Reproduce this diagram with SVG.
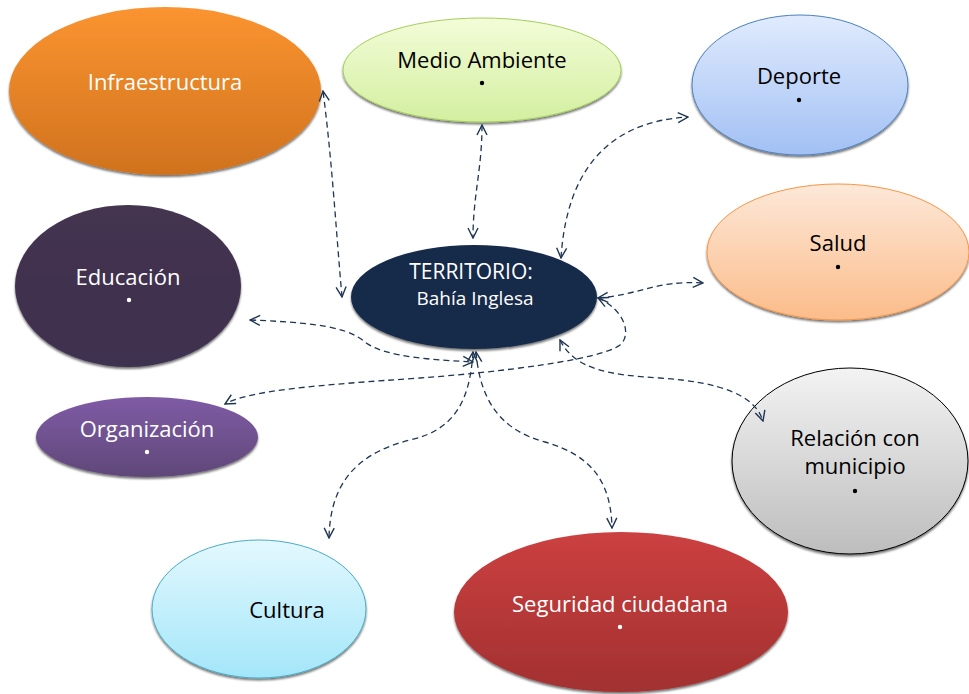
<svg xmlns="http://www.w3.org/2000/svg" width="969" height="694" viewBox="0 0 969 694">
<style>
.lbl{font-family:"Open Sans","Liberation Sans",sans-serif;font-size:22px;text-anchor:middle}
.w{fill:#ffffff}.k{fill:#000000}
.conn path{fill:none;stroke:#1f3552;stroke-width:1.3;stroke-dasharray:6 4;marker-start:url(#ah);marker-end:url(#ah)}
.sh{filter:url(#ds)}
</style>
<defs>
<marker id="ah" viewBox="0 0 12 12" refX="11" refY="6" markerWidth="12" markerHeight="12" markerUnits="userSpaceOnUse" orient="auto-start-reverse">
<path d="M1,1 L11,6 L1,11" fill="none" stroke="#1f3552" stroke-width="1.4"/>
</marker>
<filter id="ds" x="-10%" y="-10%" width="120%" height="125%">
<feDropShadow dx="0" dy="2" stdDeviation="1.2" flood-color="#000" flood-opacity="0.55"/>
</filter>
<linearGradient id="gInf" x1="0" y1="0" x2="0" y2="1"><stop offset="0" stop-color="#fb9430"/><stop offset="1" stop-color="#d0721e"/></linearGradient>
<linearGradient id="gMed" x1="0" y1="0" x2="0" y2="1"><stop offset="0" stop-color="#f3fcd8"/><stop offset="1" stop-color="#d3efa0"/></linearGradient>
<linearGradient id="gDep" x1="0" y1="0" x2="0" y2="1"><stop offset="0" stop-color="#e0ebfd"/><stop offset="1" stop-color="#a2c0f4"/></linearGradient>
<linearGradient id="gSal" x1="0" y1="0" x2="0" y2="1"><stop offset="0" stop-color="#fde8d8"/><stop offset="1" stop-color="#fbbc8a"/></linearGradient>
<linearGradient id="gEdu" x1="0" y1="0" x2="0" y2="1"><stop offset="0" stop-color="#44344f"/><stop offset="1" stop-color="#3e3150"/></linearGradient>
<linearGradient id="gOrg" x1="0" y1="0" x2="0" y2="1"><stop offset="0" stop-color="#7f5ba6"/><stop offset="1" stop-color="#5f4878"/></linearGradient>
<linearGradient id="gRel" x1="0" y1="0" x2="0" y2="1"><stop offset="0" stop-color="#f3f3f3"/><stop offset="1" stop-color="#bdbdbd"/></linearGradient>
<linearGradient id="gCul" x1="0" y1="0" x2="0" y2="1"><stop offset="0" stop-color="#e3f8fe"/><stop offset="1" stop-color="#a3e6f9"/></linearGradient>
<linearGradient id="gSeg" x1="0" y1="0" x2="0" y2="1"><stop offset="0" stop-color="#cc4040"/><stop offset="1" stop-color="#a23030"/></linearGradient>
</defs>
<rect width="969" height="694" fill="#ffffff"/>

<g id="infraestructura">
<ellipse class="sh" cx="165" cy="91" rx="156" ry="84" fill="url(#gInf)"/>
<text class="lbl w" x="165" y="90">Infraestructura</text>
</g>
<g id="medio-ambiente">
<ellipse class="sh" cx="482" cy="70" rx="139" ry="52" fill="url(#gMed)" stroke="#a6cf5e" stroke-width="1"/>
<text class="lbl k" x="482" y="68">Medio Ambiente</text>
<circle cx="482" cy="83" r="2.2" fill="#000"/>
</g>
<g id="deporte">
<ellipse class="sh" cx="800" cy="85" rx="108" ry="70" fill="url(#gDep)" stroke="#4f81bd" stroke-width="1"/>
<text class="lbl k" x="799" y="84">Deporte</text>
<circle cx="799" cy="100" r="2.2" fill="#000"/>
</g>
<g id="salud">
<ellipse class="sh" cx="838" cy="252" rx="131" ry="68" fill="url(#gSal)" stroke="#f79646" stroke-width="1"/>
<text class="lbl k" x="838" y="251">Salud</text>
<circle cx="838" cy="267" r="2.2" fill="#000"/>
</g>
<g id="educacion">
<ellipse class="sh" cx="128" cy="286" rx="113" ry="81" fill="url(#gEdu)"/>
<text class="lbl w" x="128" y="285">Educación</text>
<circle cx="129" cy="300" r="2.2" fill="#fff"/>
</g>
<g id="territorio">
<ellipse class="sh" cx="474" cy="297" rx="123" ry="52" fill="#172b48"/>
<text class="lbl w" x="471" y="279" style="font-size:21px">TERRITORIO:</text>
<text class="lbl w" x="475" y="305" style="font-size:19px">Bahía Inglesa</text>
</g>
<g id="organizacion">
<ellipse class="sh" cx="147" cy="437" rx="111" ry="40" fill="url(#gOrg)"/>
<text class="lbl w" x="147" y="437">Organización</text>
<circle cx="147" cy="452" r="2.2" fill="#fff"/>
</g>
<g id="relacion-municipio">
<ellipse class="sh" cx="850" cy="461" rx="118" ry="93" fill="url(#gRel)" stroke="#000" stroke-width="1"/>
<text class="lbl k" x="855" y="446">Relación con</text>
<text class="lbl k" x="855" y="474">municipio</text>
<circle cx="855" cy="491" r="2.2" fill="#000"/>
</g>
<g id="cultura">
<ellipse class="sh" cx="259" cy="609" rx="107" ry="69" fill="url(#gCul)" stroke="#4bacc6" stroke-width="1"/>
<text class="lbl k" x="287" y="618">Cultura</text>
</g>
<g id="seguridad-ciudadana">
<ellipse class="sh" cx="621" cy="612" rx="167" ry="80" fill="url(#gSeg)"/>
<text class="lbl w" x="620" y="612">Seguridad ciudadana</text>
<circle cx="620" cy="627" r="2.2" fill="#fff"/>
</g>

<g class="conn" id="connectors">
<path d="M342,297 C336,230 332,160 323,91"/>
<path d="M482,125 C482,170 473,195 473,238"/>
<path d="M561,258 C566,180 600,122 688,117"/>
<path d="M598,298 C640,295 655,280 703,283"/>
<path d="M560,340 C575,370 610,375 660,378 C720,382 755,395 763,421"/>
<path d="M598,298 C625,310 632,335 620,345 C600,360 500,372 420,378 C320,385 250,390 225,404"/>
<path d="M250,320 C330,323 350,330 365,342 C385,358 440,360 473,362"/>
<path d="M473,352 C470,400 455,430 410,440 C350,455 330,490 329,538"/>
<path d="M476,352 C480,400 500,430 545,442 C590,455 611,480 612,528"/>
</g>
</svg>
